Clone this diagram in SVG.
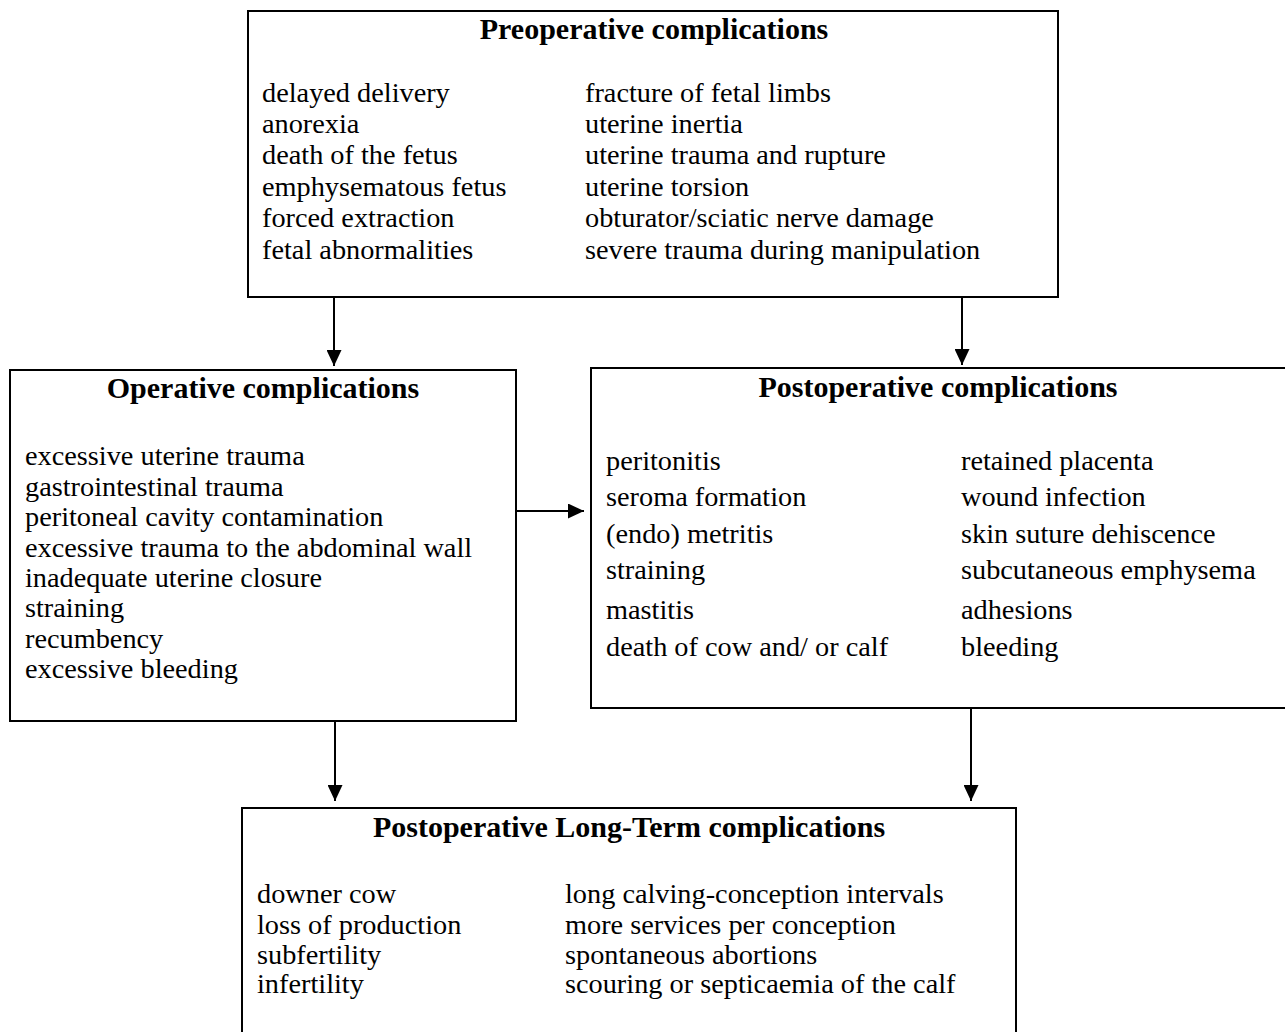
<svg xmlns="http://www.w3.org/2000/svg" width="1285" height="1032" viewBox="0 0 1285 1032">
<style>
.box{fill:#fff;stroke:#000;stroke-width:2}
.t{font-family:"Liberation Serif","Times New Roman",serif;font-size:30px;font-weight:bold;fill:#000;text-anchor:middle}
.b{font-family:"Liberation Serif","Times New Roman",serif;font-size:28.3px;fill:#000}
.c{stroke:#000;stroke-width:2;fill:none;marker-end:url(#ah)}
</style>
<defs>
<marker id="ah" markerUnits="userSpaceOnUse" markerWidth="16" markerHeight="15" refX="16" refY="7.5" orient="auto">
<path d="M0,0 L16,7.5 L0,15 z" fill="#000"/>
</marker>
</defs>
<rect width="1285" height="1032" fill="#fff"/>
<g id="preop">
<rect class="box" x="248" y="11" width="810" height="286"/>
<text class="t" x="654" y="39">Preoperative complications</text>
<text class="b" x="262" y="102">delayed delivery</text>
<text class="b" x="262" y="133">anorexia</text>
<text class="b" x="262" y="164">death of the fetus</text>
<text class="b" x="262" y="196">emphysematous fetus</text>
<text class="b" x="262" y="227">forced extraction</text>
<text class="b" x="262" y="259">fetal abnormalities</text>
<text class="b" x="585" y="102">fracture of fetal limbs</text>
<text class="b" x="585" y="133">uterine inertia</text>
<text class="b" x="585" y="164">uterine trauma and rupture</text>
<text class="b" x="585" y="196">uterine torsion</text>
<text class="b" x="585" y="227">obturator/sciatic nerve damage</text>
<text class="b" x="585" y="259">severe trauma during manipulation</text>
</g>
<g id="operative">
<rect class="box" x="10" y="370" width="506" height="351"/>
<text class="t" x="263" y="398">Operative complications</text>
<text class="b" x="25" y="465">excessive uterine trauma</text>
<text class="b" x="25" y="496">gastrointestinal trauma</text>
<text class="b" x="25" y="526">peritoneal cavity contamination</text>
<text class="b" x="25" y="557">excessive trauma to the abdominal wall</text>
<text class="b" x="25" y="587">inadequate uterine closure</text>
<text class="b" x="25" y="617">straining</text>
<text class="b" x="25" y="648">recumbency</text>
<text class="b" x="25" y="678">excessive bleeding</text>
</g>
<g id="postoperative">
<rect class="box" x="591" y="368" width="710" height="340"/>
<text class="t" x="938" y="397">Postoperative complications</text>
<text class="b" x="606" y="470">peritonitis</text>
<text class="b" x="606" y="506">seroma formation</text>
<text class="b" x="606" y="543">(endo) metritis</text>
<text class="b" x="606" y="579">straining</text>
<text class="b" x="606" y="619">mastitis</text>
<text class="b" x="606" y="656">death of cow and/ or calf</text>
<text class="b" x="961" y="470">retained placenta</text>
<text class="b" x="961" y="506">wound infection</text>
<text class="b" x="961" y="543">skin suture dehiscence</text>
<text class="b" x="961" y="579">subcutaneous emphysema</text>
<text class="b" x="961" y="619">adhesions</text>
<text class="b" x="961" y="656">bleeding</text>
</g>
<g id="longterm">
<rect class="box" x="242" y="808" width="774" height="240"/>
<text class="t" x="629" y="837">Postoperative Long-Term complications</text>
<text class="b" x="257" y="903">downer cow</text>
<text class="b" x="257" y="934">loss of production</text>
<text class="b" x="257" y="964">subfertility</text>
<text class="b" x="257" y="993">infertility</text>
<text class="b" x="565" y="903">long calving-conception intervals</text>
<text class="b" x="565" y="934">more services per conception</text>
<text class="b" x="565" y="964">spontaneous abortions</text>
<text class="b" x="565" y="993">scouring or septicaemia of the calf</text>
</g>
<g id="connectors">
<line class="c" x1="334" y1="296" x2="334" y2="366"/>
<line class="c" x1="962" y1="296" x2="962" y2="365"/>
<line class="c" x1="516" y1="511" x2="584" y2="511"/>
<line class="c" x1="335" y1="721" x2="335" y2="801"/>
<line class="c" x1="971" y1="708" x2="971" y2="801"/>
</g>
</svg>
